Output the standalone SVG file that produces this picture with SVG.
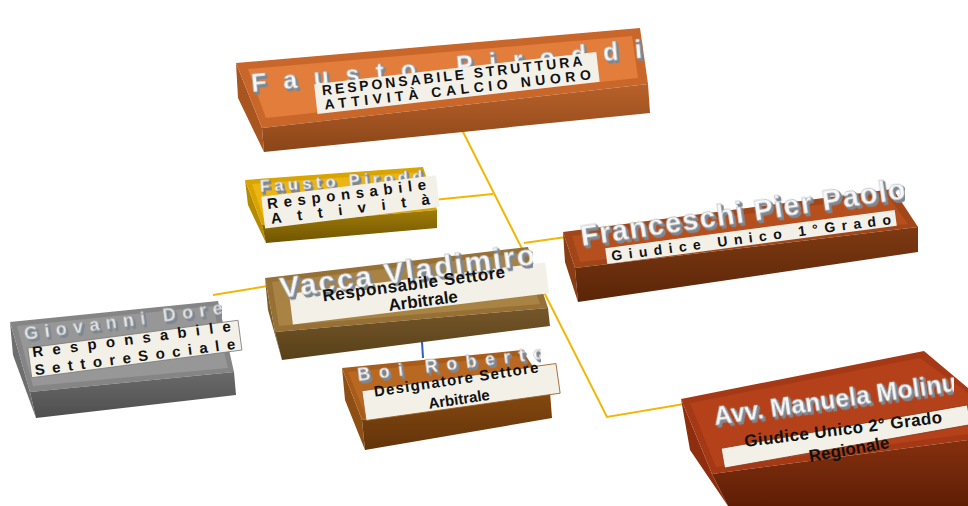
<svg xmlns="http://www.w3.org/2000/svg" width="968" height="506" viewBox="0 0 968 506">
<defs>
<style>
.name{font-family:"Liberation Sans","DejaVu Sans",sans-serif;font-weight:bold;fill:#F8F8F8;stroke:#9AA0A8;stroke-width:0.4;filter:url(#ts)}
.lbl{font-family:"Liberation Sans","DejaVu Sans",sans-serif;font-weight:bold;fill:#111}
.lab{fill:#F3F0E8}
.conn{fill:none;stroke:#F2B705;stroke-width:2}
</style>
<filter id="ts" x="-5%" y="-30%" width="112%" height="180%">
<feFlood flood-color="#7E8792" result="f"/>
<feComposite in="f" in2="SourceAlpha" operator="in" result="c"/>
<feOffset in="c" dx="0.8" dy="1.1" result="o1"/>
<feOffset in="c" dx="1.6" dy="2.2" result="o2"/>
<feOffset in="c" dx="2.2" dy="3" result="o3"/>
<feMerge><feMergeNode in="o3"/><feMergeNode in="o2"/><feMergeNode in="o1"/><feMergeNode in="SourceGraphic"/></feMerge>
</filter>
<linearGradient id="gOr" x1="0" y1="0" x2="0" y2="1"><stop offset="0" stop-color="#B8612A"/><stop offset="1" stop-color="#8A4518"/></linearGradient>
<linearGradient id="gYe" x1="0" y1="0" x2="0" y2="1"><stop offset="0" stop-color="#A07C08"/><stop offset="1" stop-color="#705400"/></linearGradient>
<linearGradient id="gFr" x1="0" y1="0" x2="0" y2="1"><stop offset="0" stop-color="#7E3A12"/><stop offset="1" stop-color="#5A2508"/></linearGradient>
<linearGradient id="gVa" x1="0" y1="0" x2="0" y2="1"><stop offset="0" stop-color="#76562A"/><stop offset="1" stop-color="#574018"/></linearGradient>
<linearGradient id="gGr" x1="0" y1="0" x2="0" y2="1"><stop offset="0" stop-color="#6A6A6A"/><stop offset="1" stop-color="#4E4E4E"/></linearGradient>
<linearGradient id="gBo" x1="0" y1="0" x2="0" y2="1"><stop offset="0" stop-color="#85480F"/><stop offset="1" stop-color="#62340A"/></linearGradient>
<linearGradient id="gMo" x1="0" y1="0" x2="0" y2="1"><stop offset="0" stop-color="#85300E"/><stop offset="1" stop-color="#5E1E06"/></linearGradient>
<clipPath id="c1"><rect x="0" y="0" width="643" height="506"/></clipPath>
<clipPath id="c2"><rect x="0" y="0" width="425" height="506"/></clipPath>
<clipPath id="c3"><rect x="0" y="0" width="905" height="506"/></clipPath>
<clipPath id="c4"><rect x="0" y="0" width="533" height="506"/></clipPath>
<clipPath id="c5"><rect x="0" y="0" width="222" height="506"/></clipPath>
<clipPath id="c6"><rect x="0" y="0" width="541" height="506"/></clipPath>
<clipPath id="c7"><rect x="0" y="0" width="954" height="506"/></clipPath>
</defs>
<rect width="968" height="506" fill="#FFFFFF"/>

<g id="connectors">
<path class="conn" d="M459,124 L607,417 L690,403"/>
<path class="conn" d="M493,194 L433,200"/>
<path class="conn" d="M524,243 L566,237"/>
<path class="conn" d="M213,295 L268,286"/>
<path d="M422,342 L423,358" fill="none" stroke="#2E5FBF" stroke-width="2"/>
</g>

<g id="fausto-piroddi-top">
<polygon points="236,63 262,128 264,152 238,98" fill="#A85520"/>
<polygon points="236,63 640,28 648,84 262,128" fill="#C9662A"/>
<polygon points="248,69 632,36 638,78 266,118" fill="#E27D3C"/>
<polygon points="262,128 648,84 650,113 264,152" fill="url(#gOr)"/>
<g clip-path="url(#c1)"><text class="name" transform="translate(252,92) rotate(-5)" font-size="25" textLength="392" lengthAdjust="spacing">Fausto Piroddi</text></g>
<g transform="translate(457,84) rotate(-6.5)">
<rect class="lab" x="-142" y="-16" width="284" height="30"/>
<text class="lbl" x="-4" y="-4" font-size="14" text-anchor="middle" textLength="262" lengthAdjust="spacing">RESPONSABILE STRUTTURA</text>
<text class="lbl" x="0" y="10.5" font-size="14" text-anchor="middle" textLength="268" lengthAdjust="spacing">ATTIVITÀ CALCIO NUORO</text>
</g>
</g>

<g id="fausto-piroddi-small">
<polygon points="245,180 262,225 266,243 248,205" fill="#B48A00"/>
<polygon points="245,180 423,167 437,210 262,225" fill="#D9A300"/>
<polygon points="252,184 418,172 430,206 264,219" fill="#ECB512"/>
<polygon points="262,225 437,210 437,228 266,243" fill="url(#gYe)"/>
<g clip-path="url(#c2)"><text class="name" transform="translate(260,192) rotate(-3.6)" font-size="17" textLength="172" lengthAdjust="spacing">Fausto Piroddi</text></g>
<g transform="translate(350,206) rotate(-7)">
<rect class="lab" x="-87" y="-20" width="176" height="32"/>
<text class="lbl" x="-82" y="-7" font-size="15" textLength="160" lengthAdjust="spacing">Responsabile</text>
<text class="lbl" x="-80" y="8" font-size="15" textLength="160" lengthAdjust="spacing">Attività</text>
</g>
</g>

<g id="franceschi">
<polygon points="563,232 575,268 578,302 565,262" fill="#8A3C12"/>
<polygon points="563,232 893,189 918,227 575,268" fill="#A2461A"/>
<polygon points="572,236 888,196 908,224 580,262" fill="#B5501E"/>
<polygon points="575,268 918,227 918,252 578,302" fill="url(#gFr)"/>
<g clip-path="url(#c3)"><text class="name" transform="translate(582,246) rotate(-8.3)" font-size="29" textLength="328" lengthAdjust="spacing">Franceschi Pier Paolo</text></g>
<g transform="translate(751,237) rotate(-7.5)">
<rect class="lab" x="-146" y="-8" width="292" height="16"/>
<text class="lbl" x="-141" y="5.5" font-size="14" textLength="282" lengthAdjust="spacing">Giudice Unico 1°Grado</text>
</g>
</g>

<g id="vacca-vladimiro">
<polygon points="265,278 275,332 282,360 268,310" fill="#7E5C28"/>
<polygon points="265,278 528,247 548,308 275,332" fill="#977035"/>
<polygon points="272,282 522,253 540,304 279,326" fill="#A98343"/>
<polygon points="275,332 548,308 550,326 282,360" fill="url(#gVa)"/>
<g transform="translate(419,293) rotate(-7)">
<rect class="lab" x="-129" y="-15" width="258" height="31"/>
</g>
<g clip-path="url(#c4)"><text class="name" transform="translate(281,298) rotate(-7.5)" font-size="30" textLength="257" lengthAdjust="spacing">Vacca Vladimiro</text></g>
<g transform="translate(419,293) rotate(-7.5)">
<text class="lbl" x="-4" y="-4" font-size="17" text-anchor="middle" textLength="184" lengthAdjust="spacing">Responsabile Settore</text>
<text class="lbl" x="3" y="14" font-size="17" text-anchor="middle">Arbitrale</text>
</g>
</g>

<g id="giovanni-dore">
<polygon points="10,322 30,392 36,418 13,355" fill="#6E6E6E"/>
<polygon points="10,322 218,301 234,372 30,392" fill="#858585"/>
<polygon points="17,326 213,306 228,368 33,386" fill="#979797"/>
<polygon points="30,392 234,372 236,395 36,418" fill="url(#gGr)"/>
<g clip-path="url(#c5)"><text class="name" transform="translate(25,340) rotate(-7.5)" font-size="18" textLength="200" lengthAdjust="spacing" style="fill:#E6E6E6">Giovanni Dore</text></g>
<g transform="translate(135,350) rotate(-7.5)">
<rect class="lab" x="-106" y="-16" width="212" height="30" stroke="#7A7A7A" stroke-width="0.8"/>
<text class="lbl" x="-102" y="-6" font-size="15" textLength="200" lengthAdjust="spacing">Responsabile</text>
<text class="lbl" x="-102" y="12" font-size="15" textLength="202" lengthAdjust="spacing">SettoreSociale</text>
</g>
</g>

<g id="boi-roberto">
<polygon points="342,368 362,420 365,450 345,400" fill="#8E4F14"/>
<polygon points="342,368 522,350 550,392 362,420" fill="#A95C1A"/>
<polygon points="348,372 517,356 543,389 365,414" fill="#B86820"/>
<polygon points="362,420 550,392 552,418 365,450" fill="url(#gBo)"/>
<g transform="translate(461,392) rotate(-8)">
<rect class="lab" x="-98" y="-15" width="196" height="30" stroke="#9A5A20" stroke-width="0.8"/>
</g>
<g clip-path="url(#c6)"><text class="name" transform="translate(358,381) rotate(-6.8)" font-size="18" textLength="188" lengthAdjust="spacing">Boi Roberto</text></g>
<g transform="translate(461,392) rotate(-8.5)">
<text class="lbl" x="-3" y="-8" font-size="15" text-anchor="middle" textLength="166" lengthAdjust="spacing">Designatore Settore</text>
<text class="lbl" x="-3" y="12" font-size="15" text-anchor="middle">Arbitrale</text>
</g>
</g>

<g id="manuela-molinu">
<polygon points="681,399 712,474 728,506 690,450" fill="#8E2E0E"/>
<polygon points="681,399 924,351 968,388 968,440 712,474" fill="#A53915"/>
<polygon points="690,403 920,358 968,393 968,434 716,467" fill="#B5411A"/>
<polygon points="712,474 968,440 968,506 728,506" fill="url(#gMo)"/>
<g transform="translate(843,437) rotate(-10)">
<rect class="lab" x="-122" y="-10" width="250" height="20" stroke="#8A3A1A" stroke-width="0.8"/>
</g>
<g clip-path="url(#c7)"><text class="name" transform="translate(715,425) rotate(-8)" font-size="25" textLength="245" lengthAdjust="spacing">Avv. Manuela Molinu</text></g>
<text class="lbl" transform="translate(745,447) rotate(-7)" font-size="17" textLength="199" lengthAdjust="spacing">Giudice Unico 2° Grado</text>
<text class="lbl" transform="translate(810,462) rotate(-10)" font-size="17">Regionale</text>
</g>
</svg>
